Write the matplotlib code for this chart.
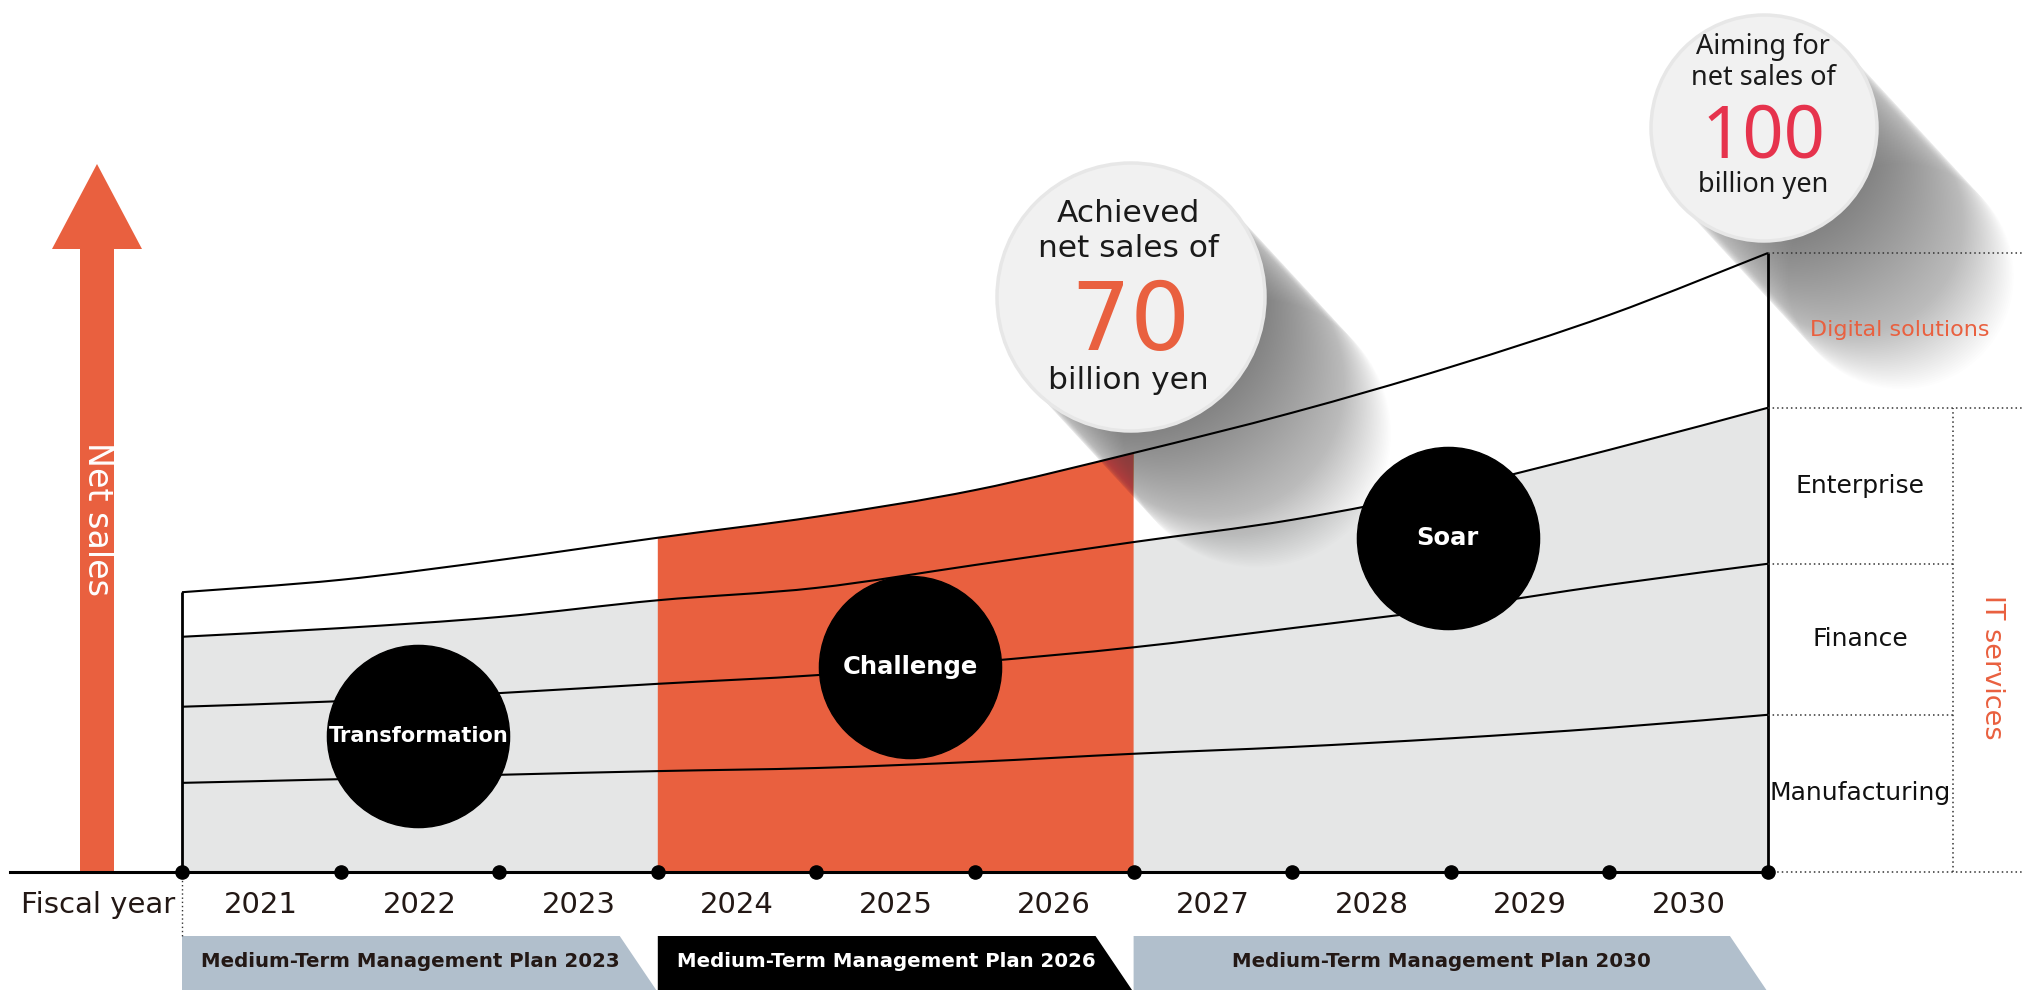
import numpy as np
import matplotlib.pyplot as plt
from matplotlib.patches import Circle, Polygon, PathPatch
from matplotlib.path import Path
from matplotlib.transforms import Affine2D

# fiscal years, the dots sit on the boundaries between them
years = ['2021', '2022', '2023', '2024', '2025', '2026', '2027', '2028', '2029', '2030']
edges = np.arange(len(years) + 1)

# net sales per segment at each boundary (billion yen)
manufacturing = [14.4, 15.0, 15.7, 16.3, 16.8, 17.8, 19.1, 20.2, 21.6, 23.3, 25.4]
finance = [12.3, 12.6, 13.2, 14.1, 15.0, 16.1, 17.2, 19.2, 21.0, 23.1, 24.4]
enterprise = [11.3, 11.8, 12.3, 13.5, 14.1, 15.7, 17.0, 17.5, 19.3, 21.8, 25.2]
digital = [7.2, 7.8, 9.2, 10.1, 11.5, 12.1, 14.4, 17.3, 19.7, 21.8, 25.0]
segments = ['Manufacturing', 'Finance', 'Enterprise', 'Digital solutions']

phases = ['Transformation', 'Challenge', 'Soar']
plans = ['Medium-Term Management Plan 2023',
         'Medium-Term Management Plan 2026',
         'Medium-Term Management Plan 2030']
plan_start = [0, 3, 6]
plan_end = [3, 6, 10]

ORANGE = '#e9603f'
RED = '#e6334d'
GREY = '#e5e6e6'
BAND = '#b1bfcc'
INK = '#231815'

W, H = 2023, 990
fig = plt.figure(figsize=(W / 100, H / 100), dpi=100)
ax = fig.add_axes([0, 0, 1, 1])
# 1 fiscal year = 158.6 px, 1 billion yen = 6.19 px, origin at (182, 872)
ax.set_xlim(-182 / 158.6, (W - 182) / 158.6)
ax.set_ylim(-(H - 872) / 6.19, 872 / 6.19)
ax.axis('off')

# pixel transform (origin top-left) for the decorations
px = Affine2D().scale(1 / W, -1 / H).translate(0, 1) + fig.transFigure

levels = np.cumsum([manufacturing, finance, enterprise, digital], axis=0)
total = levels[-1]


def bezier(x, y):
    # smooth drawing through the points (catmull-rom as cubic bezier segments)
    p = np.column_stack([x, y])
    n = len(p)
    segs = []
    for i in range(n - 1):
        p0, p1, p2, p3 = p[max(i - 1, 0)], p[i], p[i + 1], p[min(i + 2, n - 1)]
        segs.append((p1, p1 + (p2 - p0) / 6, p2 - (p3 - p1) / 6, p2))
    return segs


def curve_path(segs, close_to_zero=False):
    verts = [segs[0][0]]
    codes = [Path.MOVETO]
    for _, c1, c2, p2 in segs:
        verts += [c1, c2, p2]
        codes += [Path.CURVE4] * 3
    if close_to_zero:
        verts += [(segs[-1][3][0], 0), (segs[0][0][0], 0), (0, 0)]
        codes += [Path.LINETO, Path.LINETO, Path.CLOSEPOLY]
    return Path(verts, codes)


# fills
ax.add_patch(PathPatch(curve_path(bezier(edges, levels[2]), True), facecolor=GREY, lw=0, zorder=1))
top_segs = bezier(edges, total)
ax.add_patch(PathPatch(curve_path(top_segs[plan_start[1]:plan_end[1]], True),
                       facecolor=ORANGE, lw=0, zorder=1.5))

# segment boundaries
for lv in levels:
    ax.add_patch(PathPatch(curve_path(bezier(edges, lv)), fill=False, edgecolor='black', lw=1.5, zorder=3))
ax.vlines([edges[0], edges[-1]], 0, [total[0], total[-1]], color='black', lw=2, zorder=3)
ax.plot([-1.085, edges[-1]], [0, 0], color='black', lw=2.2, zorder=3)
ax.scatter(edges, np.zeros(len(edges)), s=90, color='black', zorder=4)

# dotted guides on the right
dot = (0, (1, 2))
xr = ax.get_xlim()[1]
xit = (1953 - 182) / 158.6
ax.hlines([0, levels[2][-1], total[-1]], edges[-1], xr, color='#333333', lw=1.1, linestyles=[dot], zorder=3)
ax.hlines([levels[0][-1], levels[1][-1]], edges[-1], xit, color='#333333', lw=1.1, linestyles=[dot], zorder=3)
ax.vlines(xit, 0, levels[2][-1], color='#333333', lw=1.1, linestyles=[dot], zorder=3)
ax.vlines(0, 0, -10.34, color='#333333', lw=1.0, linestyles=[dot], zorder=3)

bounds = np.vstack([np.zeros(len(edges)), levels])
for i, name in enumerate(segments):
    yc = (bounds[i][-1] + bounds[i + 1][-1]) / 2
    if name == 'Digital solutions':
        ax.text(10.83, yc, name, color=ORANGE, fontsize=16, ha='center', va='center')
    else:
        ax.text(10.58, yc, name, color='#111111', fontsize=18, ha='center', va='center')
ax.text(11.41, 33.0, 'IT services', color=ORANGE, fontsize=19.5,
        rotation=-90, ha='center', va='center')

# year labels
for i, yr in enumerate(years):
    ax.text(edges[i] + 0.5, -6.6, yr, fontsize=21, color=INK, ha='center', va='baseline')
ax.text(-0.045, -6.6, 'Fiscal year', fontsize=21, color=INK, ha='right', va='baseline')

# plan bands
top, bot = -10.34, ax.get_ylim()[0]
for name, s, e in zip(plans, plan_start, plan_end):
    face = 'black' if s == 3 else BAND
    ax.add_patch(Polygon([(s, top), (e - 0.24, top), (e - 0.01, bot), (s, bot)],
                         closed=True, facecolor=face, edgecolor='none', zorder=2))
    ax.text((s + e) / 2 - 0.06, -14.5, name, fontsize=14.2, fontweight='bold',
            color='white' if s == 3 else INK, ha='center', va='center', zorder=3)

# phase circles
phase_pos = [(1.49, 22.0), (4.59, 33.1), (7.98, 54.0)]
phase_fs = [15, 17.5, 17.5]
for name, (x, y), fs in zip(phases, phase_pos, phase_fs):
    ax.scatter([x], [y], s=17200, color='black', zorder=5)
    ax.text(x, y, name, color='white', fontsize=fs, fontweight='bold',
            ha='center', va='center', zorder=6)

# net sales arrow
ax.add_patch(Polygon([(80, 872), (80, 249), (52, 249), (97, 164), (142, 249), (114, 249), (114, 872)],
                     closed=True, transform=px, facecolor=ORANGE, edgecolor='none', zorder=2))
ax.text(97, 519, 'Net sales', transform=px, color='white', fontsize=24, rotation=-90,
        ha='center', va='center', zorder=3)


# speech bubbles with long shadows
def bubble(cx, cy, r, length):
    steps = 90
    for k in range(1, steps + 1):
        d = length * k / steps
        ax.add_patch(Circle((cx + d * 0.72, cy + d * 0.78), r, transform=px,
                            facecolor='#3c3c3c', edgecolor='none', alpha=0.0075, zorder=2))
    ax.add_patch(Circle((cx, cy), r, transform=px, facecolor='#f1f1f1',
                        edgecolor='#e7e7e7', lw=2.5, zorder=7))


bubble(1131, 297, 134, 175)
for txt, yb in [('Achieved', 222), ('net sales of', 257), ('billion yen', 389)]:
    ax.text(1128, yb, txt, transform=px, fontsize=22.5, color='#1a1a1a',
            ha='center', va='baseline', zorder=8)
ax.text(1130, 350, '70', transform=px, fontsize=68, color=ORANGE,
        ha='center', va='baseline', zorder=8)

bubble(1764, 128, 113, 190)
for txt, yb in [('Aiming for', 54), ('net sales of', 85), ('billion yen', 192)]:
    ax.text(1763, yb, txt, transform=px, fontsize=19.5, color='#1a1a1a', family='Noto Sans',
            ha='center', va='baseline', zorder=8)
ax.text(1763, 157, '100', transform=px, fontsize=52, color=RED, family='Noto Sans',
        ha='center', va='baseline', zorder=8)

fig.savefig('out.png', dpi=100)
